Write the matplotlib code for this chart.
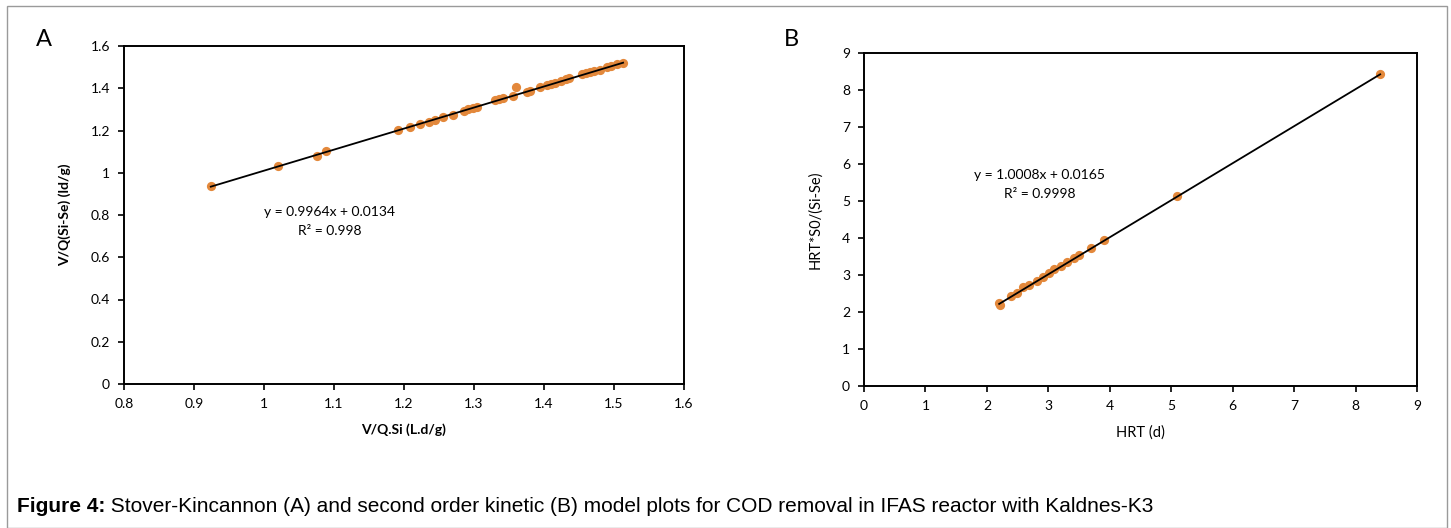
import matplotlib
matplotlib.use("Agg")
import matplotlib.pyplot as plt
import numpy as np
from matplotlib.patches import Rectangle

# ---- Data: panel A (Stover-Kincannon) ----
a_x = [0.924, 1.020, 1.075, 1.089, 1.192, 1.209, 1.223, 1.235, 1.244, 1.256, 1.270,
       1.285, 1.292, 1.298, 1.304, 1.330, 1.336, 1.342, 1.356, 1.360, 1.375, 1.380,
       1.394, 1.404, 1.410, 1.416, 1.424, 1.432, 1.436, 1.454, 1.460, 1.466, 1.472,
       1.480, 1.490, 1.496, 1.504, 1.513]
a_y = [0.939, 1.032, 1.081, 1.101, 1.202, 1.215, 1.231, 1.240, 1.248, 1.262, 1.275,
       1.294, 1.300, 1.305, 1.313, 1.344, 1.348, 1.352, 1.363, 1.404, 1.384, 1.388,
       1.407, 1.415, 1.420, 1.426, 1.434, 1.444, 1.447, 1.466, 1.470, 1.476, 1.480,
       1.486, 1.499, 1.504, 1.513, 1.518]
a_slope, a_icpt, a_r2 = 0.9964, 0.0134, "0.998"

# ---- Data: panel B (second order kinetic) ----
b_x = [2.20, 2.21, 2.40, 2.49, 2.59, 2.68, 2.81, 2.91, 3.01, 3.10, 3.20, 3.31, 3.41,
       3.50, 3.70, 3.90, 5.10, 8.40]
b_y = [2.25, 2.18, 2.43, 2.52, 2.68, 2.73, 2.84, 2.95, 3.05, 3.15, 3.25, 3.34, 3.45,
       3.54, 3.74, 3.95, 5.14, 8.43]
b_slope, b_icpt, b_r2 = 1.0008, 0.0165, "0.9998"

a_xticks = [0.8, 0.9, 1.0, 1.1, 1.2, 1.3, 1.4, 1.5, 1.6]
a_xticklabels = ["0.8", "0.9", "1", "1.1", "1.2", "1.3", "1.4", "1.5", "1.6"]
a_yticks = [0, 0.2, 0.4, 0.6, 0.8, 1.0, 1.2, 1.4, 1.6]
a_yticklabels = ["0", "0.2", "0.4", "0.6", "0.8", "1", "1.2", "1.4", "1.6"]
b_ticks = list(range(0, 10))

caption_bold = "Figure 4:"
caption_rest = " Stover-Kincannon (A) and second order kinetic (B) model plots for COD removal in IFAS reactor with Kaldnes-K3"

W, H = 1451, 528
fig = plt.figure(figsize=(W / 100, H / 100), dpi=100)
FONT = "Lato"
orange = "#E3883B"


def ax_rect(l, t, r, b):
    return [l / W, 1 - b / H, (r - l) / W, (b - t) / H]


def style(ax):
    for s in ax.spines.values():
        s.set_linewidth(1.4)
        s.set_color("black")
    ax.tick_params(direction="out", length=4, width=1.2, labelsize=10, pad=6)
    for lbl in ax.get_xticklabels() + ax.get_yticklabels():
        lbl.set_fontfamily(FONT)


# Outer border
fig.add_artist(Rectangle((7 / W, 0), (1447 - 7) / W, 1 - 6 / H, transform=fig.transFigure,
                         fill=False, edgecolor="#9a9a9a", linewidth=1.0))

# Panel A
axA = fig.add_axes(ax_rect(124, 46, 684, 384))
axA.scatter(a_x, a_y, s=44, color=orange, zorder=2, linewidths=0)
xa = np.array([min(a_x), max(a_x)])
axA.plot(xa, a_slope * xa + a_icpt, color="black", linewidth=1.3, zorder=3)
axA.set_xlim(0.8, 1.6)
axA.set_ylim(0, 1.6)
axA.set_xticks(a_xticks)
axA.set_xticklabels(a_xticklabels)
axA.set_yticks(a_yticks)
axA.set_yticklabels(a_yticklabels)
style(axA)
axA.set_xlabel("V/Q.Si (L.d/g)", fontsize=10, fontweight="bold", family=FONT, labelpad=10)
axA.set_ylabel("V/Q(Si-Se) (ld/g)", fontsize=10, fontweight="bold", family=FONT, labelpad=14)
fig.text(330 / W, 1 - 212 / H, f"y = {a_slope}x + {a_icpt}", ha="center", va="center",
         fontsize=10, family=FONT)
fig.text(330 / W, 1 - 231 / H, f"R² = {a_r2}", ha="center", va="center",
         fontsize=10, family=FONT)
fig.text(44 / W, 1 - 40 / H, "A", ha="center", va="center", fontsize=17, family=FONT)

# Panel B
axB = fig.add_axes(ax_rect(864, 53, 1417, 386))
axB.scatter(b_x, b_y, s=44, color=orange, zorder=2, linewidths=0)
xb = np.array([min(b_x), max(b_x)])
axB.plot(xb, b_slope * xb + b_icpt, color="black", linewidth=1.3, zorder=3)
axB.set_xlim(0, 9)
axB.set_ylim(0, 9)
axB.set_xticks(b_ticks)
axB.set_yticks(b_ticks)
style(axB)
axB.set_xlabel("HRT (d)", fontsize=10.5, family=FONT, labelpad=10)
axB.set_ylabel("HRT*S0/(Si-Se)", fontsize=10.5, family=FONT, labelpad=14)
fig.text(1040 / W, 1 - 175 / H, f"y = {b_slope}x + {b_icpt}", ha="center", va="center",
         fontsize=10, family=FONT)
fig.text(1040 / W, 1 - 194 / H, f"R² = {b_r2}", ha="center", va="center",
         fontsize=10, family=FONT)
fig.text(791 / W, 1 - 40 / H, "B", ha="center", va="center", fontsize=17, family=FONT)

# Caption
t1 = fig.text(17 / W, 1 - 506 / H, caption_bold, ha="left", va="center", fontsize=15,
              fontweight="bold", family="Liberation Sans")
fig.canvas.draw()
bb = t1.get_window_extent()
fig.text(bb.x1 / W, 1 - 506 / H, caption_rest, ha="left", va="center", fontsize=15,
         family="Liberation Sans")

fig.savefig("out.png", dpi=100)
